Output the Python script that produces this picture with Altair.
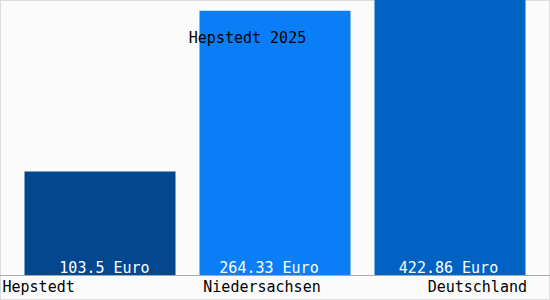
import altair as alt
import pandas as pd

categories = ["Hepstedt", "Niedersachsen", "Deutschland"]
values = [103.5, 264.33, 422.86]
value_labels = ["103.5 Euro", "264.33 Euro", "422.86 Euro"]
colors = ["#03478f", "#0a7ef6", "#0062c2"]
title_text = "Hepstedt 2025"

df = pd.DataFrame({"cat": categories, "val": values, "lbl": value_labels, "col": colors})

FONT = "DejaVu Sans Mono"
FS = 15

xsc = alt.Scale(domain=categories, paddingInner=24 / 175, paddingOuter=0.14)
ysc = alt.Scale(domain=[0, 275], range=[275, 0], nice=False, zero=True)
X = alt.X("cat:N", scale=xsc, axis=None, sort=categories)

base = alt.Chart(df)

bars = base.mark_bar(clip=True).encode(
    x=X,
    y=alt.Y("val:Q", scale=ysc, axis=None),
    color=alt.Color("col:N", scale=None),
)

def val_label(name, dx):
    return base.transform_filter(alt.datum.cat == name).mark_text(
        font=FONT, fontSize=FS, color="white", baseline="alphabetic", align="center", dx=dx
    ).encode(x=X, y=alt.value(273), text="lbl:N")

v1 = val_label(categories[0], 4.5)
v2 = val_label(categories[1], -6)
v3 = val_label(categories[2], -1.5)

baseline = base.mark_rule(color="#aaaaaa", strokeWidth=1).encode(
    x=alt.value(0), x2=alt.value(550), y=alt.value(275.5)
)

def cat_label(name, align, dx):
    return base.transform_filter(alt.datum.cat == name).mark_text(
        font=FONT, fontSize=FS, color="black", baseline="alphabetic", align=align, dx=dx
    ).encode(x=X, y=alt.value(292), text="cat:N")

l1 = cat_label(categories[0], "left", -97.5)
l2 = cat_label(categories[1], "center", -13)
l3 = cat_label(categories[2], "right", 77)

title = alt.Chart(pd.DataFrame({"t": [title_text]})).mark_text(
    font=FONT, fontSize=FS, color="black", baseline="alphabetic", align="center"
).encode(x=alt.value(247.5), y=alt.value(43), text="t:N")

chart = alt.layer(bars, v1, v2, v3, baseline, l1, l2, l3, title).properties(
    width=550, height=300, background="#fbfbfb", padding=0,
    autosize=alt.AutoSizeParams(type="none"),
).configure_view(stroke="#dddddd", strokeWidth=2)

chart.save("out.html", embed_options={"renderer": "svg", "actions": False})
